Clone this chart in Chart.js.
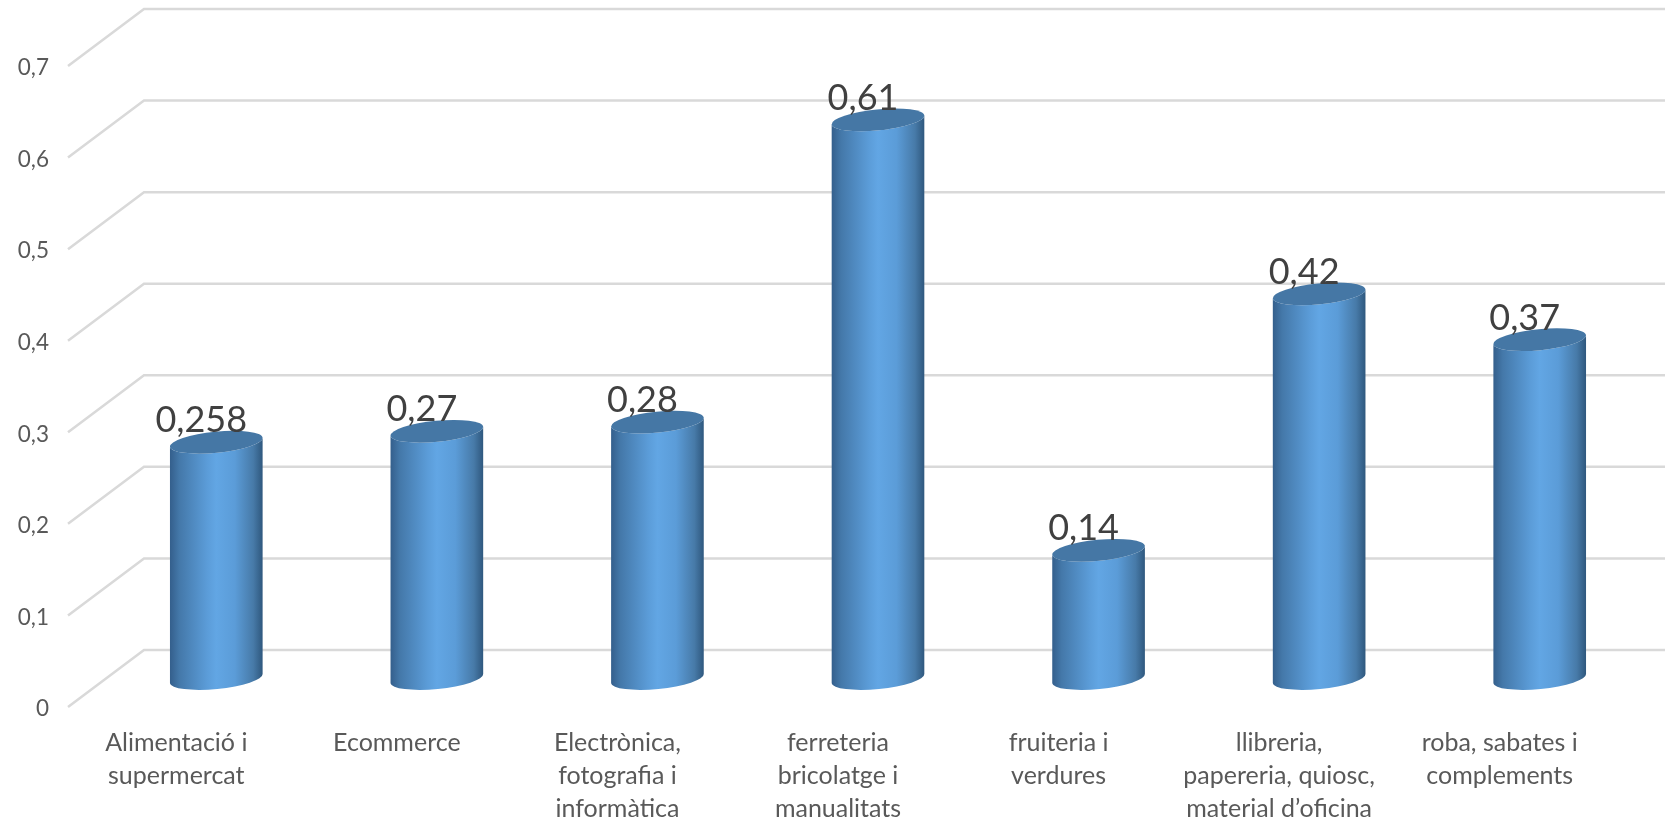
<!DOCTYPE html>
<html>
<head>
<meta charset="utf-8">
<title>Chart</title>
<script src="https://cdn.jsdelivr.net/npm/chart.js@4"></script>
<style>
  html, body { margin: 0; padding: 0; background: #fff; overflow: hidden; }
  canvas { display: block; }
</style>
</head>
<body>
<canvas id="chart" width="1665" height="819"></canvas>
<script>
const CATEGORIES = [
  ["Alimentació i", "supermercat"],
  ["Ecommerce"],
  ["Electrònica,", "fotografia i", "informàtica"],
  ["ferreteria", "bricolatge i", "manualitats"],
  ["fruiteria i", "verdures"],
  ["llibreria,", "papereria, quiosc,", "material d’oficina"],
  ["roba, sabates i", "complements"],
];
const VALUES = [0.258, 0.27, 0.28, 0.61, 0.14, 0.42, 0.37];
const VALUE_LABELS = ["0,258", "0,27", "0,28", "0,61", "0,14", "0,42", "0,37"];
const TICK_LABELS = ["0", "0,1", "0,2", "0,3", "0,4", "0,5", "0,6", "0,7"];

// the 3d look: back wall is offset from the front plane, bars stand halfway
const WALL_DX = 76;
const WALL_DY = -57;
const BAR_DX = WALL_DX / 2;
const BAR_DY = WALL_DY / 2;
const CAP_RY = 10.5;
const CAP_TILT = -0.097;

const GRID_COLOR = "#d9d9d9";
const TEXT_COLOR = "#595959";
const LABEL_COLOR = "#404040";
const CAP_COLOR = "#4577a5";

class CylinderBar extends Chart.BarElement {
  static id = "cylinderBar";

  draw(ctx) {
    const { x, y, base, width } = this.getProps(["x", "y", "base", "width"]);
    const cx = x + BAR_DX;
    const top = y + BAR_DY;
    const bottom = base + BAR_DY;
    const rx = width / 2 / Math.cos(CAP_TILT);

    const grad = ctx.createLinearGradient(cx - width / 2, 0, cx + width / 2, 0);
    grad.addColorStop(0, "#345f8c");
    grad.addColorStop(0.1, "#4478a9");
    grad.addColorStop(0.4, "#5b9cd8");
    grad.addColorStop(0.5, "#62a6e4");
    grad.addColorStop(0.7, "#5b9cd8");
    grad.addColorStop(0.9, "#477aa8");
    grad.addColorStop(1, "#2f587e");

    ctx.save();
    ctx.fillStyle = grad;
    ctx.beginPath();
    ctx.ellipse(cx, top, rx, CAP_RY, CAP_TILT, Math.PI, 0, true);
    ctx.ellipse(cx, bottom, rx, CAP_RY, CAP_TILT, 0, Math.PI, false);
    ctx.closePath();
    ctx.fill();

    ctx.fillStyle = CAP_COLOR;
    ctx.beginPath();
    ctx.ellipse(cx, top, rx, CAP_RY, CAP_TILT, 0, Math.PI * 2);
    ctx.fill();
    ctx.restore();
  }
}
Chart.register(CylinderBar);
Chart.defaults.datasets.bar.dataElementType = "cylinderBar";

const wallGrid = {
  id: "wallGrid",
  beforeDatasetsDraw(chart) {
    const { ctx, scales, chartArea, width } = chart;
    ctx.save();
    ctx.strokeStyle = GRID_COLOR;
    ctx.lineWidth = 2.5;
    scales.y.ticks.forEach((tick) => {
      const py = scales.y.getPixelForValue(tick.value);
      ctx.beginPath();
      ctx.moveTo(chartArea.left, py);
      ctx.lineTo(chartArea.left + WALL_DX, py + WALL_DY);
      ctx.lineTo(width, py + WALL_DY);
      ctx.stroke();
    });
    ctx.restore();
  },
};

const valueLabels = {
  id: "valueLabels",
  afterDatasetsDraw(chart) {
    const { ctx } = chart;
    ctx.save();
    ctx.font = "36px Lato";
    ctx.fillStyle = LABEL_COLOR;
    ctx.textAlign = "center";
    ctx.textBaseline = "alphabetic";
    chart.getDatasetMeta(0).data.forEach((bar, i) => {
      ctx.fillText(VALUE_LABELS[i], bar.x + BAR_DX - 15, bar.y + BAR_DY - 10);
    });
    ctx.restore();
  },
};

new Chart(document.getElementById("chart"), {
  type: "bar",
  data: {
    labels: CATEGORIES,
    datasets: [
      {
        data: VALUES,
        categoryPercentage: 1,
        barPercentage: 0.42,
        clip: false,
      },
    ],
  },
  plugins: [wallGrid, valueLabels],
  options: {
    responsive: false,
    animation: false,
    layout: {
      autoPadding: false,
      padding: { top: 66, right: 53 },
    },
    plugins: {
      legend: { display: false },
      title: { display: false },
      tooltip: { enabled: false },
    },
    scales: {
      x: {
        grid: { display: false },
        border: { display: false },
        afterFit(scale) {
          scale.height = 112;
        },
        ticks: {
          color: TEXT_COLOR,
          font: { family: "Lato", size: 25, lineHeight: 1.32 },
          padding: 11,
          labelOffset: -2,
          maxRotation: 0,
          autoSkip: false,
        },
      },
      y: {
        min: 0,
        max: 0.7,
        grid: { display: false },
        border: { display: false },
        afterFit(scale) {
          scale.width = 68;
        },
        ticks: {
          stepSize: 0.1,
          color: TEXT_COLOR,
          font: { family: "Lato", size: 22.5 },
          padding: 11,
          labelOffset: 2,
          callback(value, index) {
            return TICK_LABELS[index];
          },
        },
      },
    },
  },
});
</script>
</body>
</html>
